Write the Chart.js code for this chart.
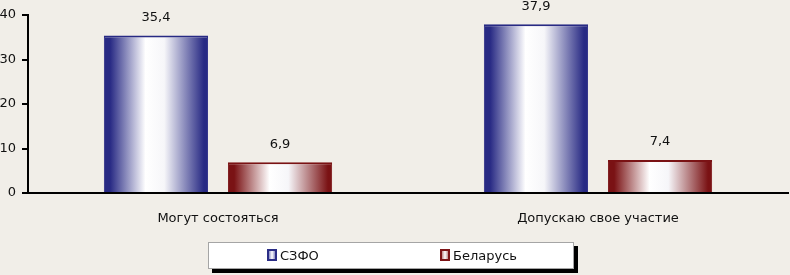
<!DOCTYPE html>
<html>
<head>
<meta charset="utf-8">
<script src="https://cdn.jsdelivr.net/npm/chart.js@4/dist/chart.umd.min.js"></script>
<style>
  html, body { margin: 0; padding: 0; background: #f1eee8; }
  #wrap { position: relative; width: 790px; height: 275px; }
  #legend {
    position: absolute; left: 208px; top: 242px; width: 364px; height: 25px;
    background: #fff; border: 1px solid #a5a5a5; box-shadow: 4px 4px 0 #000;
    font: 13px "DejaVu Sans", sans-serif; color: #111;
  }
  #legend span { position: absolute; top: 5px; }
  #legend i { display: inline-block; width: 6px; height: 8px; border: 2px solid; margin-right: 3px; vertical-align: -1px; }
</style>
</head>
<body>
<div id="wrap">
  <canvas id="myChart" width="790" height="275"></canvas>
  <div id="legend">
    <span style="left:58px"><i style="border-color:#2b2d86;background:linear-gradient(90deg,#8a8cc4,#fff,#8a8cc4)"></i>СЗФО</span>
    <span style="left:231px"><i style="border-color:#7d1416;background:linear-gradient(90deg,#c08a8a,#fff,#c08a8a)"></i>Беларусь</span>
  </div>
</div>
<script>
const categories = ['Могут состояться', 'Допускаю свое участие'];
const szfo = [35.4, 37.9];
const belarus = [6.9, 7.4];
const seriesNames = ['СЗФО', 'Беларусь'];
const darkColors = ['#282a84', '#7a1214'];

const font = { family: '"DejaVu Sans", sans-serif', size: 13 };

// horizontal dark-white-dark shading on every bar
const shading = {
  id: 'shading',
  beforeDatasetsDraw(chart) {
    const c = chart.ctx;
    chart.data.datasets.forEach((ds, i) => {
      chart.getDatasetMeta(i).data.forEach(bar => {
        const x0 = bar.x - bar.width / 2, x1 = bar.x + bar.width / 2;
        const g = c.createLinearGradient(x0, 0, x1, 0);
        g.addColorStop(0, darkColors[i]);
        g.addColorStop(0.06, darkColors[i]);
        g.addColorStop(0.4, '#ffffff');
        g.addColorStop(0.58, '#f6f6f9');
        g.addColorStop(0.96, darkColors[i]);
        g.addColorStop(1, darkColors[i]);
        bar.options = Object.assign({}, bar.options, { backgroundColor: g });
      });
    });
  }
};

const valueLabels = {
  id: 'valueLabels',
  afterDatasetsDraw(chart) {
    const c = chart.ctx;
    c.save();
    c.font = '13px "DejaVu Sans", sans-serif';
    c.fillStyle = '#111';
    c.textAlign = 'center';
    c.textBaseline = 'middle';
    chart.data.datasets.forEach((ds, i) => {
      chart.getDatasetMeta(i).data.forEach((bar, j) => {
        c.fillText(String(ds.data[j]).replace('.', ','), bar.x, bar.y - 18);
      });
    });
    c.restore();
  }
};

const chart = new Chart(document.getElementById('myChart'), {
  type: 'bar',
  data: {
    labels: categories,
    datasets: [{
      label: seriesNames[0],
      data: szfo,
      borderColor: darkColors[0],
      borderWidth: { top: 2, left: 1, right: 1, bottom: 0 },
      categoryPercentage: 0.653,
      barPercentage: 0.84
    }, {
      label: seriesNames[1],
      data: belarus,
      borderColor: darkColors[1],
      borderWidth: { top: 2, left: 1, right: 1, bottom: 0 },
      categoryPercentage: 0.653,
      barPercentage: 0.84
    }]
  },
  options: {
    responsive: false,
    animation: false,
    layout: { padding: { top: 15, right: 2, left: 0, bottom: 0 } },
    plugins: {
      legend: { display: false },
      tooltip: { enabled: false }
    },
    scales: {
      x: {
        grid: { display: false, drawTicks: false },
        border: { color: '#000', width: 2 },
        ticks: { color: '#111', font: font, padding: 18 },
        afterFit(scale) { scale.height = 82; }
      },
      y: {
        min: 0,
        max: 40,
        ticks: { stepSize: 10, color: '#111', font: font, padding: 6 },
        grid: { drawOnChartArea: false, color: '#000', tickLength: 6, lineWidth: 2 },
        border: { color: '#000', width: 2 },
        afterFit(scale) { scale.width = 28; }
      }
    }
  },
  plugins: [shading, valueLabels]
});
</script>
</body>
</html>
